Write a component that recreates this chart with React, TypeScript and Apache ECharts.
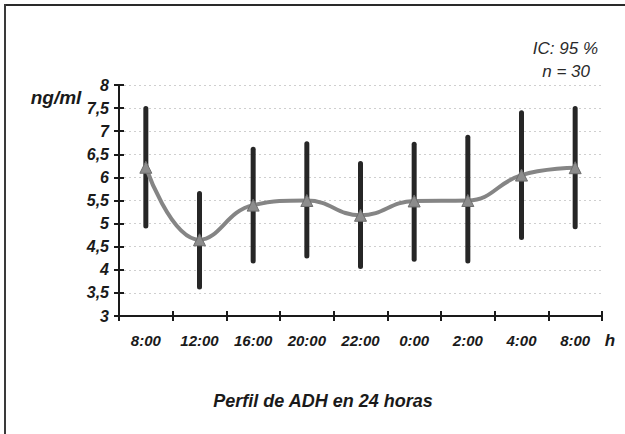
import React, { useEffect, useRef } from "react";
import * as echarts from "echarts";

const categories = ["8:00", "12:00", "16:00", "20:00", "22:00", "0:00", "2:00", "4:00", "8:00 "];
const meanValues = [6.22, 4.65, 5.4, 5.5, 5.18, 5.49, 5.5, 6.05, 6.21];
const upperValues = [7.49, 5.65, 6.61, 6.73, 6.3, 6.72, 6.87, 7.4, 7.49];
const lowerValues = [4.95, 3.63, 4.19, 4.3, 4.07, 4.23, 4.19, 4.7, 4.93];
const yTicks = { min: 3, max: 8, interval: 0.5 };

const FONT = "'Liberation Sans', Arial, sans-serif";

export default function App() {
  const ref = useRef<HTMLDivElement>(null);
  useEffect(() => {
    if (!ref.current) return;
    const chart = echarts.init(ref.current, null, { renderer: "svg" });
    const errData = categories.map((_, i) => [i, lowerValues[i], upperValues[i]]);
    chart.setOption({
      animation: false,
      backgroundColor: "#ffffff",
      grid: { left: 119, right: 23, top: 85, bottom: 118 },
      xAxis: [
        {
          type: "category",
          data: categories,
          boundaryGap: true,
          axisLine: { lineStyle: { color: "#1a1a1a", width: 2 } },
          axisTick: { show: true, length: 5, lineStyle: { color: "#1a1a1a", width: 2 } },
          axisLabel: {
            margin: 17,
            color: "#1a1a1a",
            fontFamily: FONT,
            fontSize: 15,
            fontWeight: "bold",
            fontStyle: "italic",
            formatter: (v: string) => v.trim(),
          },
          splitLine: { show: false },
        },
        {
          type: "category",
          data: categories,
          position: "bottom",
          boundaryGap: true,
          axisLine: { show: false },
          axisTick: { show: true, inside: true, length: 5, lineStyle: { color: "#1a1a1a", width: 2 } },
          axisLabel: { show: false },
        },
      ],
      yAxis: [
        {
          type: "value",
          min: yTicks.min,
          max: yTicks.max,
          interval: yTicks.interval,
          axisLine: { show: true, lineStyle: { color: "#1a1a1a", width: 2 } },
          axisTick: { show: true, length: 5, lineStyle: { color: "#1a1a1a", width: 2 } },
          axisLabel: {
            margin: 10,
            color: "#1a1a1a",
            fontFamily: FONT,
            fontSize: 16,
            fontWeight: "bold",
            fontStyle: "italic",
            formatter: (v: number) => String(v).replace(".", ","),
          },
          splitLine: { show: true, lineStyle: { color: "#cfcfcf", type: [2, 3], width: 1 } },
        },
        {
          type: "value",
          min: yTicks.min,
          max: yTicks.max,
          interval: yTicks.interval,
          position: "left",
          axisLine: { show: false },
          axisTick: { show: true, inside: true, length: 5, lineStyle: { color: "#1a1a1a", width: 2 } },
          axisLabel: { show: false },
          splitLine: { show: false },
        },
      ],
      series: [
        {
          type: "custom",
          data: errData,
          z: 2,
          renderItem: (params: any, api: any) => {
            const x = api.value(0);
            const lo = api.coord([x, api.value(1)]);
            const hi = api.coord([x, api.value(2)]);
            return {
              type: "line",
              shape: { x1: lo[0], y1: lo[1], x2: hi[0], y2: hi[1] },
              style: { stroke: "#262626", lineWidth: 5, lineCap: "round" },
            };
          },
        },
        {
          type: "line",
          data: meanValues,
          smooth: 0.45,
          z: 3,
          symbol: "triangle",
          symbolSize: 12,
          lineStyle: { color: "#858585", width: 4 },
          itemStyle: { color: "#8c8c8c", borderColor: "#6e6e6e", borderWidth: 1 },
        },
      ],
      graphic: [
        { type: "line", shape: { x1: 4, y1: 5, x2: 625, y2: 5 }, style: { stroke: "#2a2a2a", lineWidth: 2 } },
        { type: "line", shape: { x1: 5, y1: 4, x2: 5, y2: 434 }, style: { stroke: "#3a3a3a", lineWidth: 2 } },
        {
          type: "text",
          x: 56,
          y: 97,
          style: {
            text: "ng/ml",
            fill: "#1a1a1a",
            font: `italic bold 19px ${FONT}`,
            textAlign: "center",
            textVerticalAlign: "middle",
          },
        },
        {
          type: "text",
          x: 610,
          y: 340,
          style: {
            text: "h",
            fill: "#1a1a1a",
            font: `italic bold 17px ${FONT}`,
            textAlign: "center",
            textVerticalAlign: "middle",
          },
        },
        {
          type: "text",
          x: 598,
          y: 48,
          style: {
            text: "IC: 95 %",
            fill: "#2a2a2a",
            font: `italic 17px ${FONT}`,
            textAlign: "right",
            textVerticalAlign: "middle",
          },
        },
        {
          type: "text",
          x: 590,
          y: 71,
          style: {
            text: "n = 30",
            fill: "#2a2a2a",
            font: `italic 17px ${FONT}`,
            textAlign: "right",
            textVerticalAlign: "middle",
          },
        },
        {
          type: "text",
          x: 323,
          y: 401,
          style: {
            text: "Perfil de ADH en 24 horas",
            fill: "#1a1a1a",
            font: `italic bold 18px ${FONT}`,
            textAlign: "center",
            textVerticalAlign: "middle",
          },
        },
      ],
    });
    return () => chart.dispose();
  }, []);
  return (
    <div
      ref={ref}
      style={{ position: "absolute", left: 0, top: 0, width: 625, height: 434 }}
    />
  );
}
